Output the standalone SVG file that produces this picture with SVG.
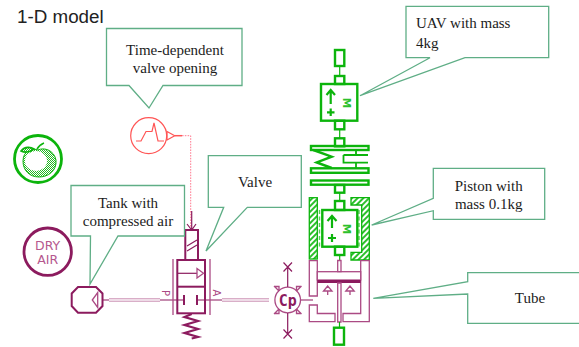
<svg xmlns="http://www.w3.org/2000/svg" width="579" height="347" viewBox="0 0 579 347">
<style>
.call{fill:#fff;stroke:#5fae86;stroke-width:1.3;stroke-linejoin:miter}
.t{font-family:"Liberation Serif","Times New Roman",serif;font-size:15px;fill:#1c1c1c}
.m{text-anchor:middle}
.g{fill:none;stroke:#0cb40c;stroke-width:2.4}
.gw{fill:#fff;stroke:#0cb40c;stroke-width:2.4}
.gthin{fill:none;stroke:#0cb40c;stroke-width:1.2}
.d{fill:none;stroke:#8c1b5e;stroke-width:2}
.dt{fill:none;stroke:#8c1b5e;stroke-width:1.2}
.p{fill:none;stroke:#ab4a84;stroke-width:1.3}
.pw{fill:#fff;stroke:#ab4a84;stroke-width:1.3}
.r{fill:none;stroke:#ff5555;stroke-width:1.2}
.lab{font-family:"DejaVu Sans","Liberation Sans",sans-serif}
</style>
<defs>
<pattern id="hatch" width="4" height="4" patternUnits="userSpaceOnUse" patternTransform="rotate(45)">
<rect width="4" height="4" fill="#fff"/><rect width="2" height="4" fill="#2cc02c"/>
</pattern>
<pattern id="shade" width="2" height="2" patternUnits="userSpaceOnUse">
<rect width="2" height="2" fill="#fff"/><rect width="1" height="1" fill="#22b822"/><rect x="1" y="1" width="1" height="1" fill="#22b822"/>
</pattern>
</defs>
<rect width="579" height="347" fill="#fff"/>
<text id="title" x="17" y="22.5" font-family="'Liberation Sans',Arial,sans-serif" font-size="18.8" fill="#222">1-D model</text>

<g id="connectors">
<path class="dt" d="M103 300H109M160 300H184M197 300H222M300 300H313"/>
<path d="M109 298.8H160M109 301.2H160M222 298.8H269M222 301.2H269" fill="none" stroke="#c98bb0" stroke-width="1"/>
<path d="M182 135.7H190.7V228" fill="none" stroke="#ff7a90" stroke-width="1" stroke-dasharray="1.6 1.2"/>
</g>

<g id="apple">
<circle cx="38" cy="159" r="23.5" fill="none" stroke="#0cb40c" stroke-width="2.8"/>
<path d="M23 161C23 150 33 148 38 150C44 147 54 150 56 160C57 171 48 177 39 177C29 177 23 170 23 161Z" fill="url(#shade)" stroke="#0cb40c" stroke-width="1"/>
<ellipse cx="36" cy="161" rx="11" ry="10" fill="#fff"/>
<path d="M21 151C25 146 31 147 34 149C30 152 25 153 21 151ZM37 149C39 146 41 144 44 143" fill="url(#shade)" stroke="#0cb40c" stroke-width="1.6"/>
</g>

<g id="dry-air">
<circle cx="47.7" cy="251.7" r="23.7" fill="none" stroke="#8c1b5e" stroke-width="2.8"/>
<text class="lab m" x="47.7" y="249.5" font-size="12.5" fill="#b5578e">DRY</text>
<text class="lab m" x="47.7" y="264" font-size="12.5" fill="#b5578e">AIR</text>
</g>

<g id="source">
<circle cx="148.7" cy="135.7" r="18" class="r"/>
<path class="r" d="M136 141H141L146 131.5H152L154 123L158 141H164"/>
<path class="r" d="M167 131.5L174.7 135.7L167 140Z"/>
<path d="M174.7 135.7H182" stroke="#ff5555" stroke-width="1.5"/>
</g>

<g id="tank">
<path class="d" d="M78 287H96L102.5 293.5V306L96 312.7H78L71.7 306V293.5Z"/>
<path class="p" d="M92.3 300L97.7 292.5V307.5Z"/>
</g>

<g id="valve">
<path class="p" d="M173 259V315M210 259V315"/>
<rect x="185.3" y="230" width="12.7" height="30" class="d"/>
<path class="dt" d="M187 246L197 240M187 251L197 245"/>
<path class="dt" d="M191.7 211V230M187 224L191.7 230L196 224"/>
<rect x="177.3" y="260" width="27.7" height="53.3" class="d"/>
<path class="d" d="M177.3 286.7H205"/>
<path class="dt" d="M177.3 273.3H197"/>
<path class="p" d="M197 268.5L203.5 273.3L197 278Z"/>
<path class="d" d="M184 295V305M197 295V305"/>
<path d="M191.7 314L184.5 317L198 321L184.5 325L198 329L184.5 333L198 337L191.7 338.5" fill="none" stroke="#8c1b5e" stroke-width="2.2"/>
<text class="lab m" transform="translate(161.5 293) rotate(90)" font-size="10" fill="#ab4a84">P</text>
<text class="lab m" transform="translate(213 293) rotate(90)" font-size="10" fill="#ab4a84">A</text>
</g>

<g id="cp">
<circle cx="287.7" cy="300" r="12.8" class="pw"/>
<text x="287.7" y="305.5" text-anchor="middle" font-family="'DejaVu Sans Mono','Liberation Mono',monospace" font-weight="bold" font-size="15" fill="#8c1b5e">Cp</text>
<path class="dt" d="M287.7 287V267M287.7 313V334M283.5 262.5L292 271.5M292 262.5L283.5 271.5M283.5 329.5L292 338.5M292 329.5L283.5 338.5"/>
<path class="p" d="M279 291L274 286M279 291V286.5H274.5M296.5 291L301.5 286M296.5 291V286.5H301M279 309L274 314M279 309V313.5H274.5M296.5 309L301.5 314M296.5 309V313.5H301"/>
</g>

<g id="uav">
<rect x="335" y="50" width="9.3" height="16" class="g"/>
<path class="gthin" d="M339.7 66V76M339.7 129V138.5"/>
<rect x="335" y="76" width="9.3" height="8" class="g"/>
<rect x="321" y="84" width="36.3" height="36.7" class="g"/>
<rect x="335" y="120.7" width="9.3" height="8.6" class="g"/>
<path d="M330.7 104V91M326.5 95L330.7 90L335 95M327 112.3H334.5M330.7 108.5V116" fill="none" stroke="#0cb40c" stroke-width="2.2"/>
<text class="lab m" transform="translate(343 103) rotate(90)" font-size="10.5" font-weight="bold" fill="#2cc02c">M</text>
</g>

<g id="suspension">
<rect x="335" y="138.3" width="9.3" height="8" class="g"/>
<rect x="311" y="146" width="57.5" height="4" class="g"/>
<path d="M313.3 150L331.7 156.7L316.7 162.5L331.7 168" fill="none" stroke="#0cb40c" stroke-width="2.4"/>
<path fill="none" stroke="#0cb40c" stroke-width="1.8" d="M356 150V155M343.5 155H368M343.5 155V162.7H368M356 163V168"/>
<rect x="311" y="168.3" width="57.5" height="4.5" class="g"/>
<rect x="311" y="180.5" width="57.5" height="4.2" class="g"/>
<rect x="335" y="185" width="9.3" height="7.7" class="g"/>
<path class="gthin" d="M339.7 192.7V201"/>
</g>

<g id="piston">
<rect x="309.3" y="197.7" width="8" height="61.3" fill="url(#hatch)" stroke="#0cb40c" stroke-width="1.3"/>
<path d="M351 197.7H369.3V260H351V252.3H361.7V205H351Z" fill="url(#hatch)" stroke="#0cb40c" stroke-width="1.3"/>
<path d="M319.5 210V247M359 210V247" fill="none" stroke="#55cc55" stroke-width="1.4" stroke-dasharray="4 2.5"/>
<rect x="335" y="201" width="9.3" height="9" class="g"/>
<rect x="322.3" y="210" width="35" height="36.7" class="g"/>
<rect x="335" y="246.7" width="9.3" height="8.3" class="g"/>
<path class="gthin" d="M339.7 255V260"/>
<path d="M332 228V217M327.5 221L332 216L336.5 221M328 238H336M332 234V242" fill="none" stroke="#0cb40c" stroke-width="2.2"/>
<text class="lab m" transform="translate(343 229) rotate(90)" font-size="10.5" font-weight="bold" fill="#2cc02c">M</text>
</g>

<g id="tube">
<path class="pw" d="M309.3 260.7H317.3V296H309.3Z"/>
<path class="pw" d="M309.3 305H317.3V313.5H335V321.7H309.3Z"/>
<path class="pw" d="M360.7 260.7H369.3V321.7H343V313.5H360.7Z"/>
<rect x="317.3" y="271.7" width="43.4" height="8.3" class="pw"/>
<rect x="317.3" y="280" width="43.4" height="3" fill="#8c1b5e"/>
<path class="pw" d="M337.7 260.5H341V271.7H337.7ZM337.7 283H341V322H337.7Z"/>
<path class="p" d="M327.7 286L323.5 291H332ZM327.7 291V295M350 286L345.8 291H354.2ZM350 291V295"/>
<rect x="334" y="327.7" width="10" height="17" class="g"/>
<path class="gthin" d="M339.5 322V327.7"/>
</g>

<g id="callout-time">
<path class="call" d="M106.5 28.5H242V85.5H163L149 108L129 85.5H106.5Z"/>
<text class="t m" x="175" y="55">Time-dependent</text>
<text class="t m" x="175" y="73">valve opening</text>
</g>
<g id="callout-tank">
<path class="call" d="M71 185.5H184.5V236H118L90 284L90.5 236H71Z"/>
<text class="t m" x="128" y="207.7">Tank with</text>
<text class="t m" x="128" y="225.7">compressed air</text>
</g>
<g id="callout-valve">
<path class="call" d="M208.3 155.7H301.3V207.3H247.3L206 251L223.7 207.3H208.3Z"/>
<text class="t m" x="255" y="186.5">Valve</text>
</g>
<g id="callout-uav">
<path class="call" d="M406 6.3H548.7V57.7H465L360 95.7L430 57.7H406Z"/>
<text class="t" x="416" y="28.3">UAV with mass</text>
<text class="t" x="416" y="47.7">4kg</text>
</g>
<g id="callout-piston">
<path class="call" d="M433.3 168.3H544.7V219.3H433.3V210.7L371.7 225L433.3 198.3Z"/>
<text class="t m" x="488.7" y="190.7">Piston with</text>
<text class="t m" x="488.7" y="209">mass 0.1kg</text>
</g>
<g id="callout-tube">
<path class="call" d="M467.7 272.7H585V323.3H467.7V294L373.3 298.3L467.7 281.7Z"/>
<text class="t m" x="530" y="303.3">Tube</text>
</g>
</svg>
